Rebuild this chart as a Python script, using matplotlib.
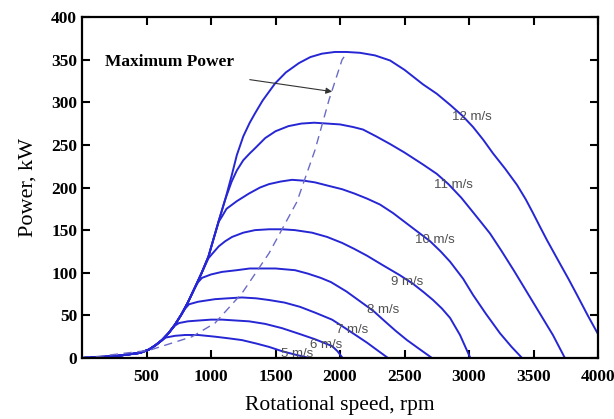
import matplotlib
matplotlib.use('Agg')
import matplotlib.pyplot as plt

# rotational speed (rpm) / power (kW), one pair of lists per wind speed
rpm_5 = [0, 250, 450, 520, 570, 620, 650, 720, 800, 900, 1031, 1140, 1240, 1350, 1450,
         1550, 1651, 1760]
kw_5 = [0, 2, 6, 10, 15, 21, 24, 26, 27, 27, 25, 23, 21, 17, 13,
        8, 4, 0]

rpm_6 = [0, 250, 450, 520, 570, 620, 670, 720, 752, 820, 907, 1000, 1085, 1190, 1295,
         1420, 1550, 1690, 1806, 1938, 1980, 2020]
kw_6 = [0, 2, 6, 10, 15, 21, 29, 38, 41, 43, 44, 45, 45, 44, 43,
        40, 35, 28, 22, 14, 8, 0]

rpm_7 = [0, 250, 450, 520, 570, 620, 670, 720, 770, 800, 829, 900, 1031, 1130, 1240,
         1350, 1450, 1570, 1690, 1810, 1938, 2000, 2100, 2209, 2290, 2372]
kw_7 = [0, 2, 6, 10, 15, 21, 29, 39, 51, 58, 63, 66, 69, 70, 71,
        70, 68, 65, 60, 53, 45, 39, 29, 18, 9, 0]

rpm_8 = [0, 250, 450, 520, 570, 620, 670, 720, 770, 820, 870, 900, 930, 1000, 1085,
         1200, 1300, 1372, 1500, 1651, 1750, 1850, 1930, 2050, 2178, 2260, 2333, 2430,
         2519, 2620, 2713]
kw_8 = [0, 2, 6, 10, 15, 21, 29, 39, 51, 65, 81, 89, 94, 98, 101,
        103, 105, 105, 105, 103, 99, 94, 89, 78, 64, 55, 45, 32,
        21, 10, 0]

rpm_9 = [0, 250, 450, 520, 570, 620, 670, 720, 770, 820, 870, 925, 980, 1008, 1060,
         1110, 1163, 1250, 1341, 1450, 1550, 1650, 1783, 1900, 2016, 2110, 2209, 2330,
         2465, 2566, 2650, 2721, 2790, 2853, 2930, 3010]
kw_9 = [0, 2, 6, 10, 15, 21, 29, 39, 51, 65, 81, 99, 117, 122, 131,
        137, 142, 147, 150, 151, 151, 150, 147, 142, 135, 128, 120, 109,
        97, 87, 77, 68, 58, 47, 27, 0]

rpm_10 = [0, 250, 450, 520, 570, 620, 670, 720, 770, 820, 870, 925, 980, 1020, 1060,
          1085, 1120, 1200, 1295, 1380, 1450, 1540, 1628, 1720, 1806, 1910, 2016, 2110,
          2209, 2310, 2411, 2550, 2698, 2780, 2853, 2954, 3031, 3130, 3240, 3330, 3411]
kw_10 = [0, 2, 6, 10, 15, 21, 29, 39, 51, 65, 81, 99, 119, 140, 160,
         166, 175, 184, 193, 200, 204, 207, 209, 208, 206, 202, 198, 193,
         187, 180, 170, 154, 137, 125, 113, 93, 74, 52, 29, 13, 0]

rpm_11 = [0, 250, 450, 520, 570, 620, 670, 720, 770, 820, 870, 925, 980, 1020, 1060,
          1110, 1160, 1200, 1250, 1300, 1341, 1420, 1500, 1600, 1700, 1800, 1900, 2000,
          2100, 2178, 2280, 2388, 2500, 2643, 2750, 2840, 2940, 3031, 3100, 3163, 3250,
          3350, 3450, 3550, 3650, 3743]
kw_11 = [0, 2, 6, 10, 15, 21, 29, 39, 51, 65, 81, 99, 119, 140, 161,
         186, 207, 220, 232, 240, 246, 258, 266, 272, 275, 276, 275, 274,
         271, 268, 260, 251, 241, 227, 216, 204, 188, 171, 158, 146, 126,
         102, 77, 52, 27, 0]

rpm_12 = [0, 250, 450, 520, 570, 620, 670, 720, 770, 820, 870, 925, 980, 1020, 1060,
          1110, 1160, 1200, 1250, 1300, 1341, 1400, 1496, 1580, 1682, 1770, 1860, 1960,
          2050, 2155, 2270, 2388, 2500, 2643, 2750, 2853, 2950, 3031, 3110, 3186, 3280,
          3372, 3440, 3496, 3550, 3605, 3700, 3770, 3837, 3920, 4000]
kw_12 = [0, 2, 6, 10, 15, 21, 29, 39, 51, 65, 81, 99, 119, 140, 161,
         186, 214, 238, 260, 276, 287, 302, 322, 335, 346, 353, 357, 359,
         359, 358, 355, 349, 338, 321, 310, 297, 284, 271, 256, 240, 222,
         203, 186, 170, 154, 138, 112, 93, 74, 50, 28]

# maximum power locus (dashed)
rpm_max = [0, 130, 520, 853, 1031, 1240, 1450, 1665, 1806, 1915, 2016, 2054]
kw_max = [0, 2, 9, 25, 41, 76, 123, 183, 244, 303, 350, 358]

speed_labels = ['5 m/s', '6 m/s', '7 m/s', '8 m/s', '9 m/s', '10 m/s', '11 m/s', '12 m/s']
label_rpm = [1667, 1891, 2093, 2333, 2519, 2736, 2876, 3023]
label_kw = [5, 15, 33, 56, 89, 138, 203, 283]

x_ticks = [500, 1000, 1500, 2000, 2500, 3000, 3500, 4000]
y_ticks = [0, 50, 100, 150, 200, 250, 300, 350, 400]

curves = [(rpm_5, kw_5), (rpm_6, kw_6), (rpm_7, kw_7), (rpm_8, kw_8),
          (rpm_9, kw_9), (rpm_10, kw_10), (rpm_11, kw_11), (rpm_12, kw_12)]

fig = plt.figure(figsize=(6.14, 4.19), dpi=100)
ax = fig.add_axes([0.1336, 0.1456, 0.8404, 0.8138])

blue = '#2626d4'
for r, p in curves:
    ax.plot(r, p, color=blue, linewidth=1.4, solid_joinstyle='round')

ax.plot(rpm_max, kw_max, color='#6a6ac8', linewidth=1.0, linestyle=(0, (6, 4)))

for lab, xr, yk in zip(speed_labels, label_rpm, label_kw):
    ax.text(xr, yk, lab, fontsize=9.5, color='#505050', family='Liberation Sans',
            ha='center', va='center')

ax.text(180, 347, 'Maximum Power', fontsize=12.5, fontweight='bold',
        family='Liberation Serif', ha='left', va='center')
ax.annotate('', xy=(1960, 312), xytext=(1279, 327),
            arrowprops=dict(arrowstyle='-|>', color='#333333', lw=0.8, mutation_scale=9))

ax.set_xlim(0, 4000)
ax.set_ylim(0, 400)
ax.set_xticks(x_ticks)
ax.set_yticks(y_ticks)
ax.tick_params(direction='in', length=6, width=1.5, top=True, right=True,
               labelsize=12.5)
ax.tick_params(axis='x', pad=8)
for lab in ax.get_xticklabels() + ax.get_yticklabels():
    lab.set_family('Liberation Serif')
    lab.set_fontweight('bold')
for sp in ax.spines.values():
    sp.set_linewidth(1.6)

ax.set_xlabel('Rotational speed, rpm', fontsize=15.5, family='Liberation Serif', labelpad=8)
ax.set_ylabel('Power, kW', fontsize=16, family='Liberation Serif', labelpad=10)

fig.savefig('out.png', dpi=100)
